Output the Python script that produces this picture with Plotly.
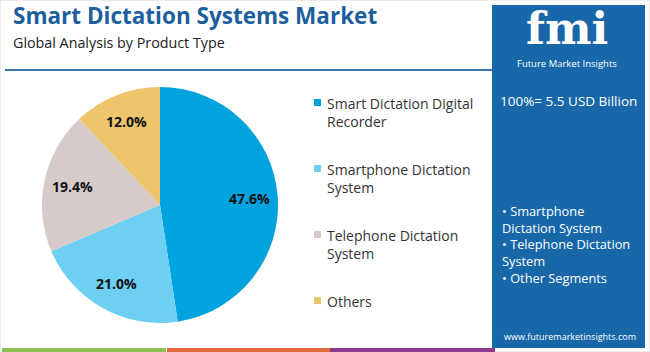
import math
import plotly.graph_objects as go

labels = ["Smart Dictation Digital Recorder", "Smartphone Dictation System",
          "Telephone Dictation System", "Others"]
legend_text = ["Smart Dictation Digital<br>Recorder", "Smartphone Dictation<br>System",
               "Telephone Dictation<br>System", "Others"]
values = [47.6, 21.0, 19.4, 12.0]
colors = ["#00a3dd", "#6dcff2", "#d6cbc8", "#edc56d"]
title = "Smart Dictation Systems Market"
subtitle = "Global Analysis by Product Type"
total_text = "100%= 5.5 USD Billion"
segments = ["• Smartphone", "Dictation System", "• Telephone Dictation", "System", "• Other Segments"]
website = "www.futuremarketinsights.com"

W, H = 650, 352
def px(x): return x / W
def py(y): return 1 - y / H

# pie geometry (pixels)
CX, CY, R = 160, 205, 118

fig = go.Figure()
fig.add_trace(go.Pie(
    labels=labels, values=values, sort=False, direction="clockwise", rotation=0,
    marker=dict(colors=colors, line=dict(width=0)),
    textinfo="none",
    domain=dict(x=[px(CX - R), px(CX + R)], y=[py(CY + R), py(CY - R)]),
    showlegend=False, hoverinfo="label+percent",
))

shapes = []
annotations = []

# slice value labels, placed along each slice's mid-angle
total = sum(values)
cum = 0
for v in values:
    mid = (cum + v / 2) / total * 2 * math.pi
    cum += v
    rr = 0.76 * R
    lx = CX + rr * math.sin(mid)
    ly = CY - rr * math.cos(mid)
    annotations.append(dict(text="<b>%.1f%%</b>" % v, x=px(lx), y=py(ly), xref="paper", yref="paper",
                            xanchor="center", yanchor="middle", showarrow=False,
                            font=dict(family="Open Sans", size=14, color="#111111")))

# frame
shapes.append(dict(type="rect", xref="paper", yref="paper", x0=0, x1=1, y0=0, y1=1,
                   line=dict(color="#d9d9d9", width=1), fillcolor="rgba(0,0,0,0)", layer="below"))
# divider
shapes.append(dict(type="line", xref="paper", yref="paper", x0=px(5), x1=px(492), y0=py(70), y1=py(70),
                   line=dict(color="#3a77ad", width=2)))
# bottom strip
for c, a, b in [("#8cc04f", 2, 166), ("#e0693b", 167, 330), ("#8d3b8e", 330, 495)]:
    shapes.append(dict(type="rect", xref="paper", yref="paper", x0=px(a), x1=px(b), y0=py(352), y1=py(348),
                       line=dict(width=0), fillcolor=c))
# blue panel
shapes.append(dict(type="rect", xref="paper", yref="paper", x0=px(492), x1=px(645), y0=py(348), y1=py(5),
                   line=dict(width=0), fillcolor="#1767a9"))

annotations.append(dict(text="<b>" + title + "</b>", x=px(11), y=py(16), xref="paper", yref="paper",
                        xanchor="left", yanchor="middle", showarrow=False,
                        font=dict(family="Open Sans", size=22.5, color="#1d5f9c")))
annotations.append(dict(text=subtitle, x=px(11), y=py(42), xref="paper", yref="paper",
                        xanchor="left", yanchor="middle", showarrow=False,
                        font=dict(family="Open Sans", size=14.3, color="#222222")))

# legend
leg_y = [102, 168, 234, 300]
for t, c, yy in zip(legend_text, colors, leg_y):
    shapes.append(dict(type="rect", xref="paper", yref="paper", x0=px(314), x1=px(321), y0=py(yy + 4), y1=py(yy - 3),
                       line=dict(width=0), fillcolor=c))
    annotations.append(dict(text=t, x=px(325), y=py(yy - 10), xref="paper", yref="paper",
                            xanchor="left", yanchor="top", align="left", showarrow=False,
                            font=dict(family="Open Sans", size=14, color="#333333")))

# logo
annotations.append(dict(text="<b>fmi</b>", x=px(567), y=py(56), xref="paper", yref="paper",
                        xanchor="center", yanchor="bottom", showarrow=False,
                        font=dict(family="DejaVu Serif", size=44, color="#ffffff")))
annotations.append(dict(text="Future Market Insights", x=px(567), y=py(63.5), xref="paper", yref="paper",
                        xanchor="center", yanchor="middle", showarrow=False,
                        font=dict(family="Open Sans", size=9.5, color="#ffffff")))
annotations.append(dict(text=total_text, x=px(568), y=py(101), xref="paper", yref="paper",
                        xanchor="center", yanchor="middle", showarrow=False,
                        font=dict(family="Open Sans", size=13.5, color="#ffffff")))
annotations.append(dict(text="<br>".join(segments), x=px(500), y=py(200), xref="paper", yref="paper",
                        xanchor="left", yanchor="top", align="left", showarrow=False,
                        font=dict(family="Open Sans", size=12.8, color="#ffffff")))
annotations.append(dict(text=website, x=px(570), y=py(336), xref="paper", yref="paper",
                        xanchor="center", yanchor="middle", showarrow=False,
                        font=dict(family="Open Sans", size=9, color="#ffffff")))

fig.update_layout(width=W, height=H, margin=dict(l=0, r=0, t=0, b=0),
                  paper_bgcolor="#ffffff", plot_bgcolor="#ffffff",
                  shapes=shapes, annotations=annotations)
fig.write_html("out.html", config={"displayModeBar": False})
